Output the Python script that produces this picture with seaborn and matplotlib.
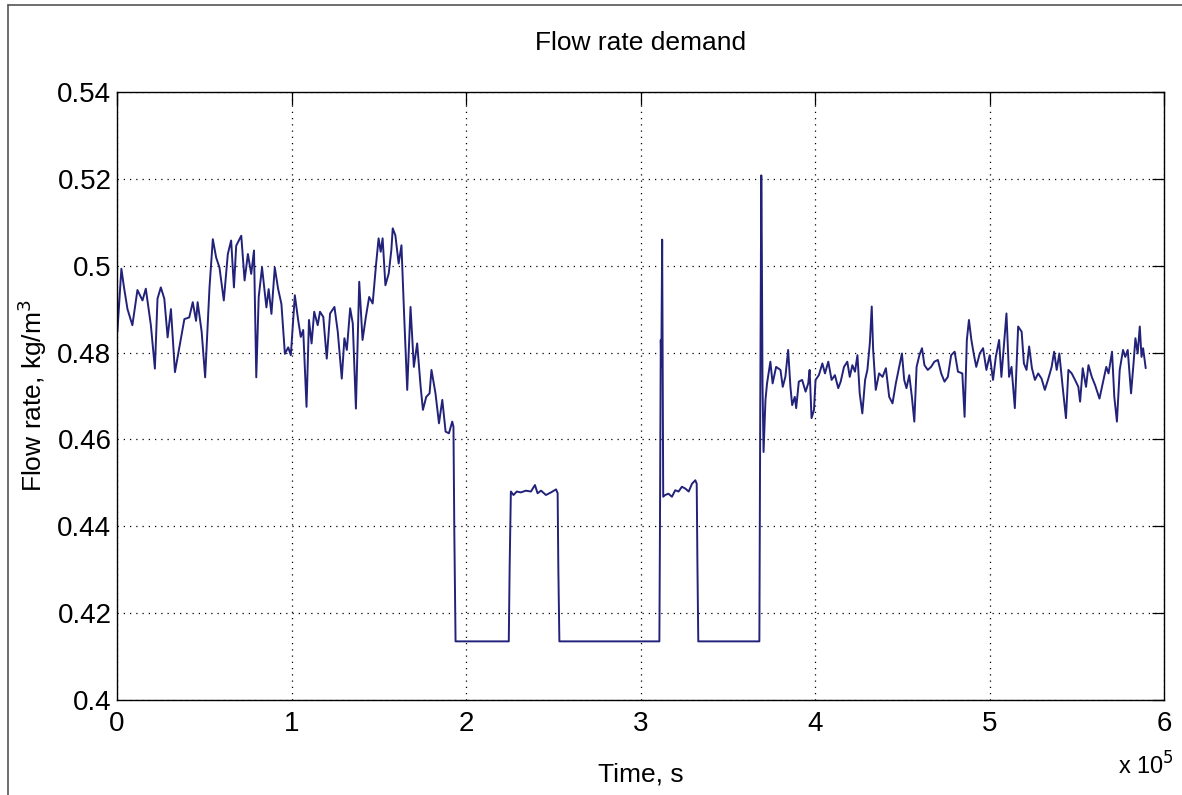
import numpy as np
import pandas as pd
import seaborn as sns
import matplotlib.pyplot as plt
from matplotlib.lines import Line2D
from matplotlib.ticker import FuncFormatter

# time in units of 1e5 s, flow rate in kg/m^3
time_1e5 = [
    0.000, 0.002, 0.025, 0.040, 0.060, 0.088, 0.117, 0.146, 0.165, 0.194,
    0.217, 0.232, 0.251, 0.271, 0.290, 0.309, 0.332, 0.357, 0.386, 0.414,
    0.434, 0.453, 0.462, 0.485, 0.505, 0.530, 0.549, 0.568, 0.587, 0.612,
    0.635, 0.654, 0.670, 0.683, 0.712, 0.731, 0.750, 0.769, 0.785, 0.798,
    0.812, 0.831, 0.856, 0.869, 0.885, 0.904, 0.923, 0.942, 0.962, 0.981,
    0.996,
    1.019, 1.038, 1.053, 1.067, 1.086, 1.100, 1.115, 1.130, 1.150, 1.163,
    1.182, 1.202, 1.221, 1.246, 1.265, 1.288, 1.303, 1.317, 1.336, 1.351,
    1.369, 1.388, 1.407, 1.426, 1.445, 1.465, 1.484, 1.499, 1.511, 1.522,
    1.538, 1.557, 1.572, 1.580, 1.595, 1.614, 1.630, 1.645, 1.663, 1.682,
    1.701, 1.720, 1.740, 1.753, 1.772, 1.791, 1.802, 1.825, 1.845, 1.864,
    1.883, 1.902, 1.921, 1.928,
    1.933, 1.940, 2.245, 2.250,
    2.257, 2.272, 2.291, 2.314, 2.343, 2.372, 2.395, 2.410, 2.430, 2.458,
    2.487, 2.516, 2.525,
    2.529, 2.535, 3.108, 3.111, 3.116, 3.119, 3.124, 3.130,
    3.141, 3.160, 3.180, 3.199, 3.218, 3.237, 3.256, 3.276, 3.295, 3.314,
    3.322,
    3.326, 3.331, 3.681, 3.686, 3.692, 3.695, 3.699, 3.705,
    3.716, 3.725, 3.744, 3.757, 3.777, 3.802, 3.815, 3.830, 3.846, 3.859,
    3.869, 3.884, 3.892, 3.907, 3.926, 3.946, 3.961, 3.969, 3.980, 3.994,
    4.003, 4.022, 4.042, 4.057, 4.076, 4.095, 4.114, 4.133, 4.147, 4.166,
    4.185, 4.199, 4.214, 4.229, 4.243, 4.256, 4.271, 4.287, 4.300, 4.314,
    4.325, 4.333, 4.348, 4.367, 4.387, 4.406, 4.425, 4.444, 4.463, 4.482,
    4.498, 4.511, 4.524, 4.540, 4.555, 4.569, 4.582, 4.598, 4.613, 4.627,
    4.646, 4.665, 4.684, 4.704, 4.723, 4.742, 4.761, 4.780, 4.800, 4.819,
    4.844, 4.857, 4.870, 4.882, 4.896, 4.909, 4.924, 4.944, 4.963, 4.982,
    5.001, 5.020, 5.036, 5.055, 5.068, 5.082, 5.097, 5.112, 5.126, 5.145,
    5.164, 5.184, 5.197, 5.212, 5.227, 5.243, 5.260, 5.279, 5.298, 5.317,
    5.337, 5.356, 5.370, 5.385, 5.400, 5.419, 5.438, 5.452, 5.471, 5.490,
    5.509, 5.519, 5.534, 5.553, 5.567, 5.586, 5.605, 5.630, 5.649, 5.669,
    5.682, 5.702, 5.715, 5.730, 5.746, 5.765, 5.778, 5.792, 5.811, 5.826,
    5.836, 5.849, 5.861, 5.871, 5.880, 5.895,
]

flow_rate = [
    0.4966, 0.4848, 0.4993, 0.4950, 0.4900, 0.4863, 0.4944, 0.4920, 0.4947, 0.4863,
    0.4763, 0.4924, 0.4950, 0.4924, 0.4835, 0.4900, 0.4755, 0.4812, 0.4877, 0.4881,
    0.4916, 0.4873, 0.4916, 0.4848, 0.4743, 0.4950, 0.5061, 0.5019, 0.4996, 0.4920,
    0.5027, 0.5058, 0.4950, 0.5046, 0.5069, 0.4966, 0.5027, 0.4981, 0.5035, 0.4743,
    0.4928, 0.4996, 0.4904, 0.4946, 0.4889, 0.4996, 0.4947, 0.4912, 0.4797, 0.4812,
    0.4794,
    0.4932, 0.4875, 0.4836, 0.4852, 0.4675, 0.4875, 0.4821, 0.4894, 0.4863, 0.4894,
    0.4882, 0.4786, 0.4890, 0.4905, 0.4848, 0.4740, 0.4833, 0.4806, 0.4902, 0.4867,
    0.4671, 0.4963, 0.4829, 0.4882, 0.4928, 0.4913, 0.5001, 0.5063, 0.5032, 0.5063,
    0.4955, 0.4982, 0.5036, 0.5086, 0.5070, 0.5005, 0.5047, 0.4890, 0.4714, 0.4905,
    0.4767, 0.4821, 0.4721, 0.4668, 0.4698, 0.4706, 0.4760, 0.4706, 0.4637, 0.4691,
    0.4618, 0.4614, 0.4641, 0.4629,
    0.4384, 0.4135, 0.4135, 0.4307,
    0.4480, 0.4472, 0.4480, 0.4478, 0.4482, 0.4480, 0.4495, 0.4476, 0.4482, 0.4472,
    0.4478, 0.4485, 0.4476,
    0.4303, 0.4135, 0.4135, 0.4364, 0.4829, 0.4767, 0.5060, 0.4468,
    0.4472, 0.4475, 0.4468, 0.4483, 0.4480, 0.4491, 0.4487, 0.4480, 0.4498, 0.4506,
    0.4498,
    0.4314, 0.4135, 0.4135, 0.4667, 0.5208, 0.5047, 0.4729, 0.4571,
    0.4691, 0.4729, 0.4779, 0.4729, 0.4767, 0.4760, 0.4721, 0.4744, 0.4806, 0.4721,
    0.4679, 0.4698, 0.4672, 0.4733, 0.4737, 0.4710, 0.4729, 0.4760, 0.4649, 0.4668,
    0.4737, 0.4748, 0.4775, 0.4752, 0.4779, 0.4737, 0.4748, 0.4718, 0.4733, 0.4767,
    0.4779, 0.4744, 0.4771, 0.4756, 0.4794, 0.4706, 0.4660, 0.4737, 0.4760, 0.4821,
    0.4906, 0.4806, 0.4714, 0.4752, 0.4744, 0.4764, 0.4698, 0.4683, 0.4729, 0.4767,
    0.4798, 0.4737, 0.4718, 0.4748, 0.4698, 0.4641, 0.4767, 0.4794, 0.4810, 0.4771,
    0.4760, 0.4767, 0.4779, 0.4783, 0.4752, 0.4733, 0.4744, 0.4794, 0.4802, 0.4756,
    0.4752, 0.4652, 0.4829, 0.4875, 0.4829, 0.4798, 0.4767, 0.4798, 0.4810, 0.4760,
    0.4794, 0.4737, 0.4790, 0.4829, 0.4744, 0.4814, 0.4890, 0.4744, 0.4767, 0.4672,
    0.4860, 0.4848, 0.4775, 0.4760, 0.4814, 0.4764, 0.4737, 0.4752, 0.4740, 0.4714,
    0.4740, 0.4767, 0.4802, 0.4760, 0.4798, 0.4721, 0.4649, 0.4760, 0.4752, 0.4737,
    0.4721, 0.4687, 0.4764, 0.4721, 0.4771, 0.4744, 0.4725, 0.4694, 0.4729, 0.4767,
    0.4752, 0.4802, 0.4698, 0.4641, 0.4760, 0.4806, 0.4790, 0.4806, 0.4706, 0.4779,
    0.4833, 0.4798, 0.4860, 0.4790, 0.4810, 0.4764,
]

x_ticks = [0, 1, 2, 3, 4, 5, 6]
y_ticks = [0.40, 0.42, 0.44, 0.46, 0.48, 0.50, 0.52, 0.54]

df = pd.DataFrame({'time': np.array(time_1e5) * 1e5, 'flow': flow_rate})

sns.set_style('white')
plt.rcParams['font.family'] = ['Liberation Sans', 'DejaVu Sans']
plt.rcParams['text.color'] = 'black'
plt.rcParams['axes.labelcolor'] = 'black'

fig = plt.figure(figsize=(11.82, 7.95), dpi=100)
ax = fig.add_axes([0.0990, 0.1195, 0.8858, 0.7648])

sns.lineplot(data=df, x='time', y='flow', ax=ax, color='#22227a',
             linewidth=1.4, estimator=None, sort=False)

ax.set_xlim(0, 6e5)
ax.set_ylim(0.4, 0.54)
ax.set_xticks([t * 1e5 for t in x_ticks])
ax.xaxis.set_major_formatter(FuncFormatter(lambda v, p: '%g' % (v / 1e5)))
ax.set_yticks(y_ticks)
ax.yaxis.set_major_formatter(FuncFormatter(lambda v, p: '%g' % round(v, 2)))

ax.grid(True, color='black', linestyle=(0, (1, 4)), linewidth=0.9)
ax.tick_params(axis='x', pad=8)
ax.tick_params(axis='y', pad=4)
ax.tick_params(direction='in', length=9, width=0.9, top=True, right=True,
               labelsize=20, colors='black')
for s in ax.spines.values():
    s.set_visible(True)
    s.set_color('black')
    s.set_linewidth(1.0)

ax.set_title('Flow rate demand', fontsize=19, pad=30, color='black')
ax.set_xlabel('Time, s', fontsize=19, labelpad=18)
ax.set_ylabel('Flow rate, kg/m$^3$', fontsize=19, labelpad=6)
fig.text(0.946, 0.026, r'x 10$^5$', fontsize=17)

# outer figure frame (left and top edges visible in the reference)
fig.add_artist(Line2D([0.007, 0.007], [0.0, 0.994], color='#555555', linewidth=1.2))
fig.add_artist(Line2D([0.007, 1.0], [0.994, 0.994], color='#555555', linewidth=1.2))

fig.savefig('out.png', dpi=100)
